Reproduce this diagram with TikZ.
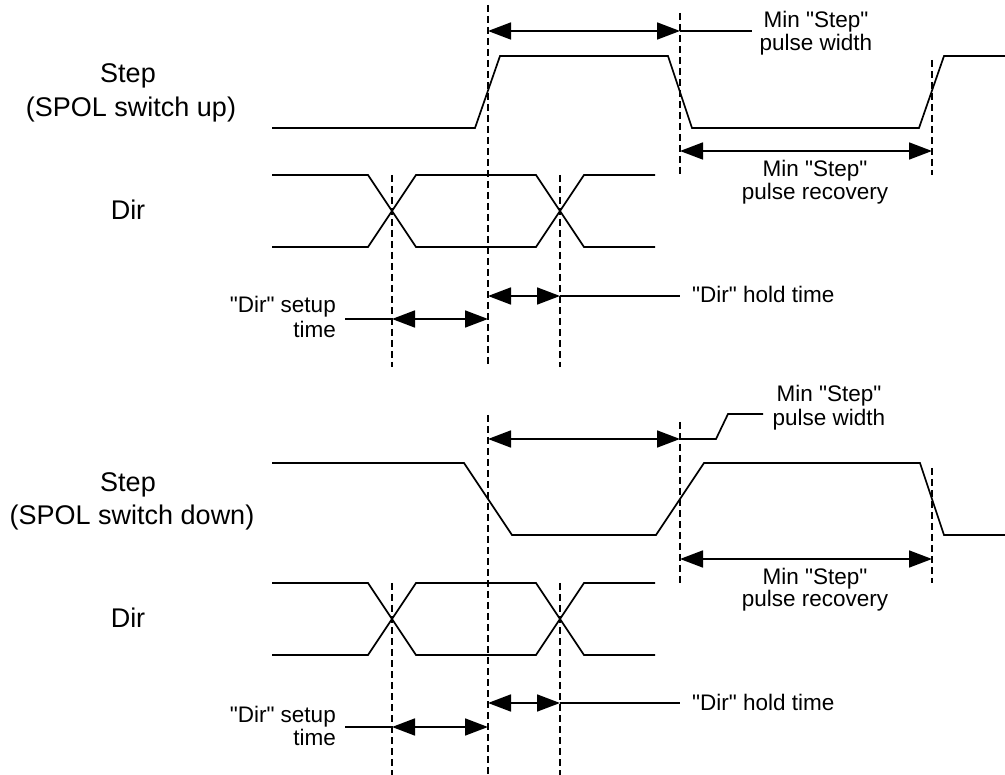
\documentclass[tikz,border=0pt]{standalone}
\usepackage{fontspec}
\setmainfont{Liberation Sans}[Ligatures=TeXOff]
\usetikzlibrary{arrows.meta}
\begin{document}
\begin{tikzpicture}[x=1pt,y=-1pt,
  wave/.style={line width=1.7pt, line join=miter},
  guide/.style={line width=1.6pt, dash pattern=on 7pt off 4pt},
  dimarrow/.style={line width=1.7pt, {Triangle[length=23pt,width=17pt]}-{Triangle[length=23pt,width=17pt]}},
  leader/.style={line width=1.7pt},
  lbl/.style={font=\fontsize{22.5}{25}\selectfont, inner sep=0pt},
  sig/.style={font=\fontsize{27}{31}\selectfont, inner sep=0pt}]
\useasboundingbox (0,0) rectangle (1005,775);

% ---------- signal names ----------
\node[sig, anchor=base] (s1a) at (128,83) {Step};
\node[sig, anchor=base] (s1b) at (131,117) {(SPOL switch up)};
\node[sig, anchor=base] (d1) at (128,220) {Dir};
\node[sig, anchor=base] (s2a) at (128,492) {Step};
\node[sig, anchor=base] (s2b) at (132,525) {(SPOL switch down)};
\node[sig, anchor=base] (d2) at (128,627) {Dir};

% ================= TOP SECTION =================
\draw[wave] (272,128) -- (475,128) -- (500,56) -- (668,56) -- (692,128) -- (919,128) -- (944,56) -- (1005,56);
\draw[wave] (272,175) -- (368,175) -- (416,247) -- (536,247) -- (584,175) -- (655,175);
\draw[wave] (272,247) -- (368,247) -- (416,175) -- (536,175) -- (584,247) -- (655,247);

\coordinate (a1t) at (488,5);   \coordinate (a1b) at (488,367);
\coordinate (b1t) at (680,13);  \coordinate (b1b) at (680,175);
\coordinate (c1t) at (932,60);  \coordinate (c1b) at (932,175);
\coordinate (e1t) at (392,175); \coordinate (e1b) at (392,367);
\coordinate (f1t) at (560,175); \coordinate (f1b) at (560,367);
\draw[guide] (a1t) -- (a1b);
\draw[guide] (b1t) -- (b1b);
\draw[guide] (c1t) -- (c1b);
\draw[guide] (e1t) -- (e1b);
\draw[guide] (f1t) -- (f1b);

\coordinate (pw1l) at (488,31);  \coordinate (pw1r) at (680,31);  \coordinate (pw1e) at (752,31);
\coordinate (pr1l) at (680,151); \coordinate (pr1r) at (932,151);
\coordinate (h1l) at (488,296);  \coordinate (h1r) at (560,296);  \coordinate (h1e) at (680,296);
\coordinate (su1l) at (392,319); \coordinate (su1r) at (488,319); \coordinate (su1e) at (345,319);
\draw[dimarrow] (pw1l) -- (pw1r);
\draw[leader] (pw1r) -- (pw1e);
\draw[dimarrow] (pr1l) -- (pr1r);
\draw[dimarrow] (h1l) -- (h1r);
\draw[leader] (h1r) -- (h1e);
\draw[dimarrow] (su1l) -- (su1r);
\draw[leader] (su1e) -- (su1l);

\node[lbl, anchor=base] (pw1a) at (816,28) {Min "Step"};
\node[lbl, anchor=base] (pw1b) at (816,51) {pulse width};
\node[lbl, anchor=base] (pr1a) at (815,177) {Min "Step"};
\node[lbl, anchor=base] (pr1b) at (815,200) {pulse recovery};
\node[lbl, anchor=base west] (h1t) at (692,303) {"Dir" hold time};
\node[lbl, anchor=base east] (su1a) at (336,313) {"Dir" setup};
\node[lbl, anchor=base east] (su1b) at (336,338) {time};

% ================= BOTTOM SECTION =================
\draw[wave] (272,463) -- (464,463) -- (512,535) -- (656,535) -- (704,463) -- (920,463) -- (944,535) -- (1005,535);
\draw[wave] (272,583) -- (368,583) -- (416,655) -- (536,655) -- (584,583) -- (655,583);
\draw[wave] (272,655) -- (368,655) -- (416,583) -- (536,583) -- (584,655) -- (655,655);

\coordinate (a2t) at (488,415); \coordinate (a2b) at (488,775);
\coordinate (b2t) at (680,422); \coordinate (b2b) at (680,583);
\coordinate (c2t) at (932,468); \coordinate (c2b) at (932,583);
\coordinate (e2t) at (392,583); \coordinate (e2b) at (392,775);
\coordinate (f2t) at (560,583); \coordinate (f2b) at (560,775);
\draw[guide] (a2t) -- (a2b);
\draw[guide] (b2t) -- (b2b);
\draw[guide] (c2t) -- (c2b);
\draw[guide] (e2t) -- (e2b);
\draw[guide] (f2t) -- (f2b);

\coordinate (pw2l) at (488,439); \coordinate (pw2r) at (680,439);
\coordinate (pw2k) at (716,439); \coordinate (pw2m) at (728,414); \coordinate (pw2e) at (763,414);
\coordinate (pr2l) at (680,559); \coordinate (pr2r) at (932,559);
\coordinate (h2l) at (488,703);  \coordinate (h2r) at (560,703);  \coordinate (h2e) at (680,703);
\coordinate (su2l) at (392,727); \coordinate (su2r) at (488,727); \coordinate (su2e) at (345,727);
\draw[dimarrow] (pw2l) -- (pw2r);
\draw[leader] (pw2r) -- (pw2k) -- (pw2m) -- (pw2e);
\draw[dimarrow] (pr2l) -- (pr2r);
\draw[dimarrow] (h2l) -- (h2r);
\draw[leader] (h2r) -- (h2e);
\draw[dimarrow] (su2l) -- (su2r);
\draw[leader] (su2e) -- (su2l);

\node[lbl, anchor=base] (pw2a) at (829,402) {Min "Step"};
\node[lbl, anchor=base] (pw2b) at (829,426) {pulse width};
\node[lbl, anchor=base] (pr2a) at (815,584) {Min "Step"};
\node[lbl, anchor=base] (pr2b) at (815,607) {pulse recovery};
\node[lbl, anchor=base west] (h2t) at (692,710) {"Dir" hold time};
\node[lbl, anchor=base east] (su2a) at (336,722) {"Dir" setup};
\node[lbl, anchor=base east] (su2b) at (336,745) {time};
\end{tikzpicture}
\end{document}
